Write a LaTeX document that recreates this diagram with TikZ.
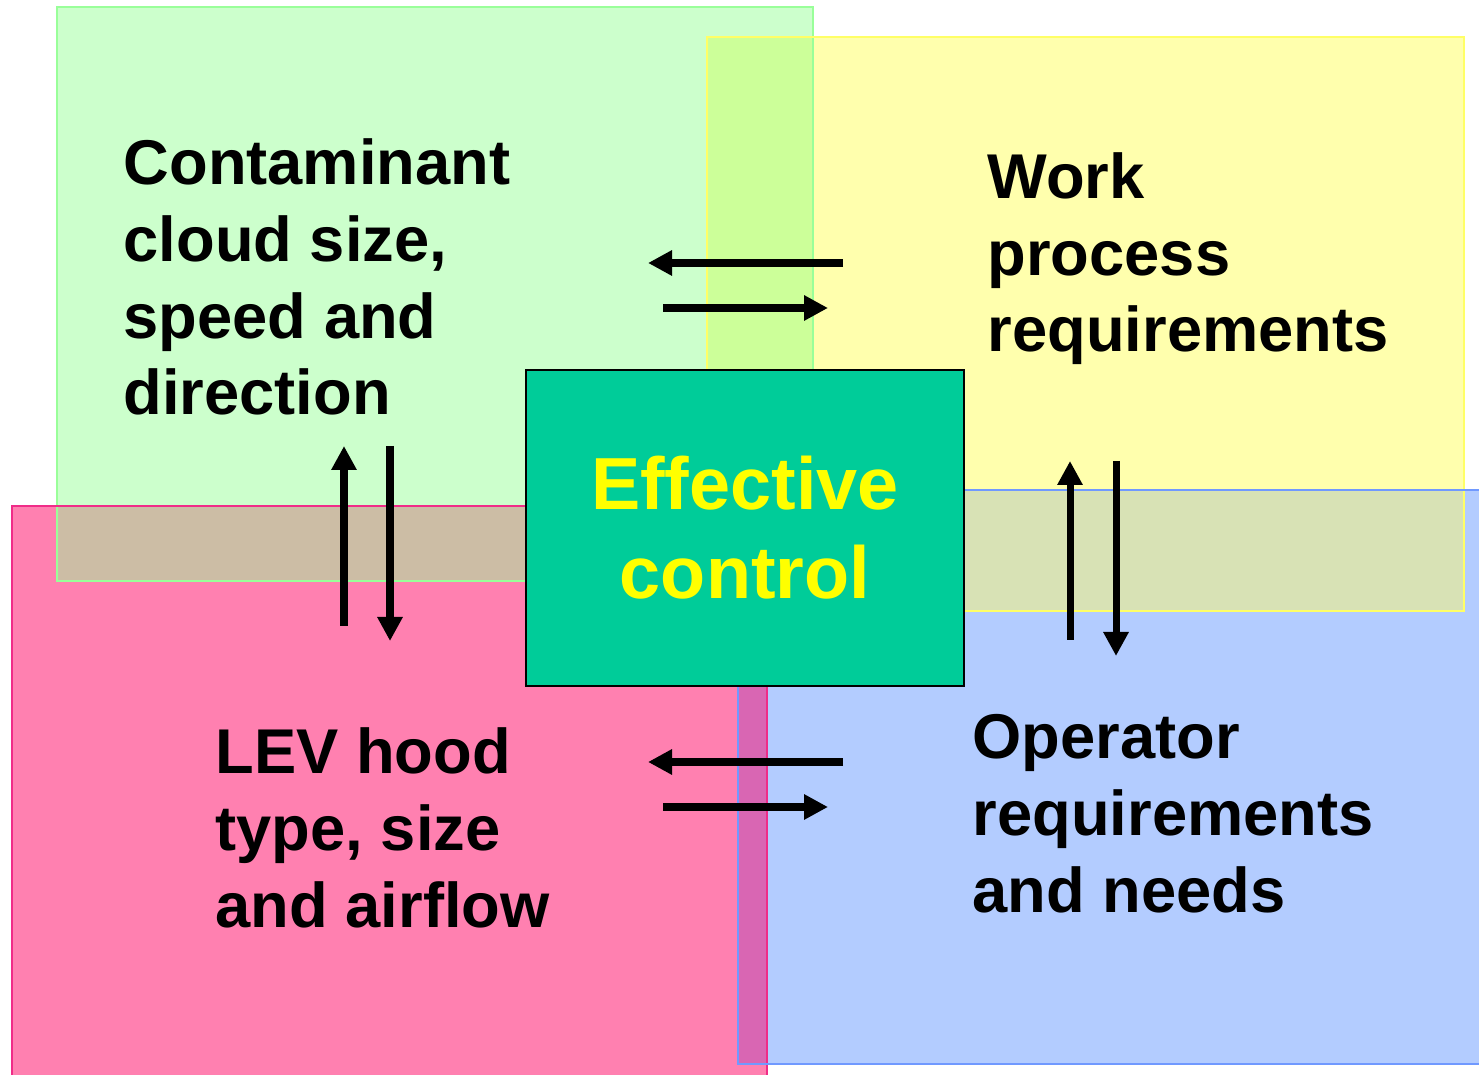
\documentclass[tikz,border=0pt]{standalone}
\usepackage{fontspec}
\setmainfont{Liberation Sans}
\usetikzlibrary{arrows.meta}

\definecolor{cloudgreen}{HTML}{CCFFCC}
\definecolor{cloudline}{HTML}{99FF99}
\definecolor{workyellow}{HTML}{FFFFAD}
\definecolor{workline}{HTML}{FFFF66}
\definecolor{hoodpink}{HTML}{FF80B0}
\definecolor{hoodline}{HTML}{F02C88}
\definecolor{operblue}{HTML}{B3CCFF}
\definecolor{operline}{HTML}{7099FF}
\definecolor{gymix}{HTML}{CCFF99}
\definecolor{gpmix}{HTML}{CCBDA5}
\definecolor{ybmix}{HTML}{D8E2B5}
\definecolor{pbmix}{HTML}{D966B3}
\definecolor{ctrlgreen}{HTML}{00CC99}
\definecolor{ctrltext}{HTML}{FFFF00}

\tikzset{
	box/.style={line width=0.6pt},
	flow/.style={-{Triangle[length=2.4mm,width=2.4mm]},line width=2pt},
	% anchored at the baseline of the last line
	quad/.style={anchor=base west,align=left,inner sep=0pt,
		font=\fontsize{18}{21.9}\selectfont\bfseries},
	ctrlbox/.style={fill=ctrlgreen,draw=black,line width=0.8pt,
		minimum width=4.38cm,minimum height=3.16cm,text=ctrltext,align=center,
		font=\fontsize{21}{25.3}\selectfont\bfseries}
}

\begin{document}
\begin{tikzpicture}
	\clip (0,0) rectangle (14.79,10.74);
	% the four areas
	\fill[cloudgreen] (0.57,4.93) rectangle (8.13,10.67);
	\fill[workyellow] (7.07,4.63) rectangle (14.64,10.37);
	\fill[hoodpink] (0.12,-0.10) rectangle (7.67,5.68);
	\fill[operblue] (7.38,0.10) rectangle (14.85,5.84);
	% where they overlap
	\fill[gymix] (7.07,4.93) rectangle (8.13,10.37);
	\fill[gpmix] (0.57,4.93) rectangle (7.67,5.68);
	\fill[ybmix] (7.38,4.63) rectangle (14.64,5.84);
	\fill[pbmix] (7.38,0.10) rectangle (7.67,5.68);
	% outlines
	\draw[box,cloudline] (0.57,4.93) rectangle (8.13,10.67);
	\draw[box,workline] (7.07,4.63) rectangle (14.64,10.37);
	\draw[box,hoodline] (0.12,-0.10) rectangle (7.67,5.68);
	\draw[box,operline] (7.38,0.10) rectangle (14.85,5.84);

	\node[ctrlbox] (ctrl) at (7.45,5.46) {Effective\\control};

	\node[quad] (cloud) at (1.23,6.59) {Contaminant\\cloud size,\\speed and\\direction};
	\node[quad] (work) at (9.87,7.22) {Work\\process\\requirements};
	\node[quad] (hood) at (2.15,1.47) {LEV hood\\type, size\\and airflow};
	\node[quad] (oper) at (9.72,1.62) {Operator\\requirements\\and needs};

	% arrow ends
	\coordinate (wc1) at (8.43,8.11);
	\coordinate (wc2) at (6.48,8.11);
	\coordinate (cw1) at (6.63,7.66);
	\coordinate (cw2) at (8.28,7.66);
	\coordinate (hc1) at (3.44,4.48);
	\coordinate (hc2) at (3.44,6.28);
	\coordinate (ch1) at (3.90,6.28);
	\coordinate (ch2) at (3.90,4.33);
	\coordinate (ow1) at (10.70,4.34);
	\coordinate (ow2) at (10.70,6.13);
	\coordinate (wo1) at (11.16,6.13);
	\coordinate (wo2) at (11.16,4.18);
	\coordinate (oh1) at (8.43,3.12);
	\coordinate (oh2) at (6.48,3.12);
	\coordinate (ho1) at (6.63,2.67);
	\coordinate (ho2) at (8.28,2.67);

	\draw[flow] (wc1)--(wc2);
	\draw[flow] (cw1)--(cw2);
	\draw[flow] (hc1)--(hc2);
	\draw[flow] (ch1)--(ch2);
	\draw[flow] (ow1)--(ow2);
	\draw[flow] (wo1)--(wo2);
	\draw[flow] (oh1)--(oh2);
	\draw[flow] (ho1)--(ho2);
\end{tikzpicture}
\end{document}
